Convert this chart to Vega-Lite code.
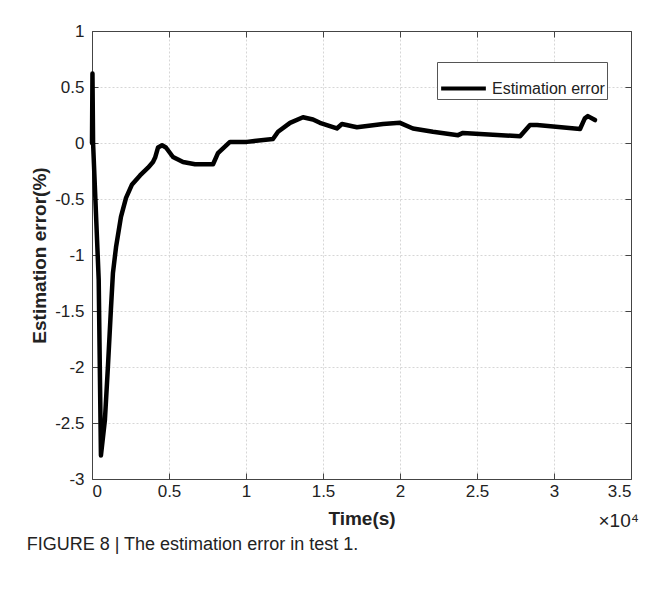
{
  "$schema": "https://vega.github.io/schema/vega-lite/v6.json",
  "autosize": "none",
  "width": 539,
  "height": 448,
  "padding": {"left": 92, "top": 31, "right": 31, "bottom": 115},
  "background": "white",
  "config": {
    "font": "Liberation Sans Narrow, Liberation Sans, Arial",
    "view": {"stroke": null},
    "axis": {
      "labelFont": "Liberation Sans Narrow, Liberation Sans, Arial",
      "titleFont": "Liberation Sans, Arial",
      "labelFontSize": 17,
      "labelColor": "#222",
      "titleFontSize": 19,
      "titleFontWeight": "bold",
      "titleColor": "#222",
      "domainColor": "#444",
      "tickColor": "#444",
      "gridColor": "#d6d6d6",
      "gridDash": [2, 2],
      "gridWidth": 1
    }
  },
  "title": {
    "text": "FIGURE 8 | The estimation error in test 1.",
    "orient": "bottom",
    "anchor": "start",
    "dx": -4,
    "offset": 6,
    "font": "Liberation Sans Narrow, Liberation Sans, Arial",
    "fontSize": 18,
    "fontWeight": "normal",
    "color": "#222"
  },
  "data": {
    "values": [
      {"time": 0, "error": 0.0},
      {"time": 30, "error": 0.62},
      {"time": 70, "error": 0.0},
      {"time": 435, "error": -1.22},
      {"time": 580, "error": -2.79},
      {"time": 840, "error": -2.47},
      {"time": 1040, "error": -1.98},
      {"time": 1230, "error": -1.48},
      {"time": 1360, "error": -1.16},
      {"time": 1560, "error": -0.93},
      {"time": 1880, "error": -0.66},
      {"time": 2210, "error": -0.49},
      {"time": 2600, "error": -0.37},
      {"time": 3120, "error": -0.29},
      {"time": 3640, "error": -0.22},
      {"time": 3960, "error": -0.17},
      {"time": 4100, "error": -0.13},
      {"time": 4290, "error": -0.04},
      {"time": 4550, "error": -0.02},
      {"time": 4800, "error": -0.04},
      {"time": 5260, "error": -0.125},
      {"time": 5910, "error": -0.17},
      {"time": 6690, "error": -0.19},
      {"time": 7860, "error": -0.19},
      {"time": 8180, "error": -0.09},
      {"time": 8960, "error": 0.01},
      {"time": 10060, "error": 0.01},
      {"time": 11750, "error": 0.036},
      {"time": 12080, "error": 0.1},
      {"time": 12860, "error": 0.18},
      {"time": 13700, "error": 0.23},
      {"time": 14350, "error": 0.21},
      {"time": 14800, "error": 0.18},
      {"time": 15900, "error": 0.13},
      {"time": 16230, "error": 0.17},
      {"time": 17200, "error": 0.14},
      {"time": 18900, "error": 0.17},
      {"time": 20000, "error": 0.18},
      {"time": 20840, "error": 0.13},
      {"time": 22140, "error": 0.1},
      {"time": 23770, "error": 0.07},
      {"time": 24090, "error": 0.09},
      {"time": 25200, "error": 0.08},
      {"time": 27800, "error": 0.06},
      {"time": 28440, "error": 0.16},
      {"time": 28900, "error": 0.16},
      {"time": 31690, "error": 0.125},
      {"time": 32000, "error": 0.22},
      {"time": 32200, "error": 0.24},
      {"time": 32660, "error": 0.205}
    ]
  },
  "layer": [
    {
      "mark": {"type": "line", "strokeWidth": 4.5, "strokeJoin": "round", "strokeCap": "round"},
      "encoding": {
        "x": {
          "field": "time", "type": "quantitative",
          "scale": {"domain": [0, 35000], "nice": false, "zero": false},
          "axis": {
            "orient": "bottom",
            "values": [0, 5000, 10000, 15000, 20000, 25000, 30000, 35000],
            "labelExpr": "'' + (datum.value / 10000)",
            "title": "Time(s)",
            "grid": true,
            "tickSize": -6,
            "labelPadding": 10,
            "titlePadding": 10
          }
        },
        "y": {
          "field": "error", "type": "quantitative",
          "scale": {"domain": [-3, 1], "nice": false, "zero": false},
          "axis": {
            "orient": "left",
            "values": [-3, -2.5, -2, -1.5, -1, -0.5, 0, 0.5, 1],
            "labelExpr": "'' + datum.value",
            "title": "Estimation error(%)",
            "grid": true,
            "tickSize": -6,
            "labelPadding": 14,
            "titlePadding": 5
          }
        },
        "color": {
          "datum": "Estimation error",
          "type": "nominal",
          "scale": {"range": ["black"]},
          "legend": {
            "title": null,
            "orient": "none",
            "legendX": 345,
            "legendY": 31,
            "symbolType": "stroke",
            "symbolSize": 2000,
            "symbolStrokeWidth": 4,
            "labelFontSize": 16,
            "labelFont": "Liberation Sans Narrow, Liberation Sans, Arial",
            "labelColor": "#222",
            "strokeColor": "#555",
            "fillColor": "white",
            "padding": 2
          }
        }
      }
    },
    {
      "mark": {"type": "line", "opacity": 0},
      "encoding": {
        "x": {
          "field": "time", "type": "quantitative",
          "axis": {
            "orient": "top",
            "values": [0, 5000, 10000, 15000, 20000, 25000, 30000, 35000],
            "labels": false,
            "grid": false,
            "tickSize": -6,
            "title": "×10⁴",
            "titleFontWeight": "normal",
            "titleFont": "Liberation Sans Narrow, Liberation Sans, Arial",
            "titleFontSize": 19,
            "titleX": 506,
            "titleY": 480,
            "titleAnchor": "start",
            "titleBaseline": "top"
          }
        },
        "y": {
          "field": "error", "type": "quantitative",
          "axis": {
            "orient": "right",
            "values": [-3, -2.5, -2, -1.5, -1, -0.5, 0, 0.5, 1],
            "labels": false,
            "grid": false,
            "tickSize": -6,
            "title": null
          }
        }
      }
    }
  ],
  "resolve": {"axis": {"x": "independent", "y": "independent"}}
}
